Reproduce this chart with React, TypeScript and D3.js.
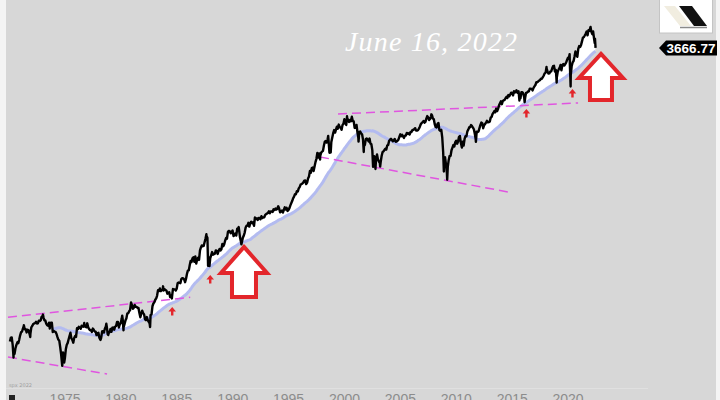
import React from 'react';
import * as d3 from 'd3';

// S&P 500 monthly closes (Jan..Dec), read/estimated
const close1970s = [
  85.02, 89.5, 89.63, 81.52, 76.55, 72.72, 78.05, 81.52, 84.21, 83.25, 87.2, 92.15,
  95.88, 96.75, 100.31, 103.95, 99.63, 99.7, 95.58, 99.03, 98.34, 94.23, 93.99, 102.09,
  103.94, 106.57, 107.2, 107.67, 109.53, 107.14, 107.39, 111.09, 110.55, 111.58, 116.67, 118.05,
  116.03, 111.68, 111.52, 106.97, 104.95, 104.26, 108.22, 104.25, 108.43, 108.29, 95.96, 97.55,
  96.57, 96.22, 93.98, 90.31, 87.28, 86.0, 79.31, 72.15, 63.54, 73.9, 69.97, 68.56,
  76.98, 81.59, 83.36, 87.3, 91.15, 95.19, 88.75, 86.88, 83.87, 89.04, 91.24, 90.19,
  100.86, 99.71, 102.77, 101.64, 100.18, 104.28, 103.44, 102.91, 105.24, 102.9, 102.1, 107.46,
  102.03, 99.82, 98.42, 98.44, 96.12, 100.48, 98.85, 96.77, 96.53, 92.34, 94.83, 95.1,
  89.25, 87.04, 89.21, 96.83, 97.24, 95.53, 100.68, 103.29, 102.54, 93.15, 94.7, 96.11,
  99.93, 96.28, 101.59, 101.76, 99.08, 102.91, 103.81, 109.32, 109.32, 101.82, 106.16, 107.94,
];
const close1980s = [
  114.16, 113.66, 102.09, 106.29, 111.24, 114.24, 121.67, 122.38, 125.46, 127.47, 140.52, 135.76,
  129.55, 131.27, 136.0, 132.81, 132.59, 131.21, 130.92, 122.79, 116.18, 121.89, 126.35, 122.55,
  120.4, 113.11, 111.96, 116.44, 111.88, 109.61, 107.09, 119.51, 120.42, 133.71, 138.54, 140.64,
  145.3, 148.06, 152.96, 164.42, 162.39, 168.11, 162.56, 164.4, 166.07, 163.55, 166.4, 164.93,
  163.41, 157.06, 159.18, 160.05, 150.55, 153.18, 150.66, 166.68, 166.1, 166.09, 163.58, 167.24,
  179.63, 181.18, 180.66, 179.83, 189.55, 191.85, 190.92, 188.63, 182.08, 189.82, 202.17, 211.28,
  211.78, 226.92, 238.9, 235.52, 247.35, 250.84, 236.12, 252.93, 231.32, 243.98, 249.22, 242.17,
  274.08, 284.2, 291.7, 288.36, 290.1, 304.0, 318.66, 329.8, 321.83, 251.79, 230.3, 247.08,
  257.07, 267.82, 258.89, 261.33, 262.16, 273.5, 272.02, 261.52, 271.91, 278.97, 273.7, 277.72,
  297.47, 288.86, 294.87, 309.64, 320.52, 317.98, 346.08, 351.45, 349.15, 340.36, 345.99, 353.4,
];
const close1990s = [
  329.08, 331.89, 339.94, 330.8, 361.23, 358.02, 356.15, 322.56, 306.05, 304.0, 322.22, 330.22,
  343.93, 367.07, 375.22, 375.34, 389.83, 371.16, 387.81, 395.43, 387.86, 392.45, 375.22, 417.09,
  408.79, 412.7, 403.69, 414.95, 415.35, 408.14, 424.21, 414.03, 417.8, 418.68, 431.35, 435.71,
  438.78, 443.38, 451.67, 440.19, 450.19, 450.53, 448.13, 463.56, 458.93, 467.83, 461.79, 466.45,
  481.61, 467.14, 445.77, 450.91, 456.5, 444.27, 458.26, 475.49, 462.69, 472.35, 453.69, 459.27,
  470.42, 487.39, 500.71, 514.71, 533.4, 544.75, 562.06, 561.88, 584.41, 581.5, 605.37, 615.93,
  636.02, 640.43, 645.5, 654.17, 669.12, 670.63, 639.95, 651.99, 687.31, 705.27, 757.02, 740.74,
  786.16, 790.82, 757.12, 801.34, 848.28, 885.14, 954.29, 899.47, 947.28, 914.62, 955.4, 970.43,
  980.28, 1049.34, 1101.75, 1111.75, 1090.82, 1133.84, 1120.67, 957.28, 1017.01, 1098.67, 1163.63, 1229.23,
  1279.64, 1238.33, 1286.37, 1335.18, 1301.84, 1372.71, 1328.72, 1320.41, 1282.71, 1362.93, 1388.91, 1469.25,
];
const close2000s = [
  1394.46, 1366.42, 1498.58, 1452.43, 1420.6, 1454.6, 1430.83, 1517.68, 1436.51, 1429.4, 1314.95, 1320.28,
  1366.01, 1239.94, 1160.33, 1249.46, 1255.82, 1224.42, 1211.23, 1133.58, 1040.94, 1059.78, 1139.45, 1148.08,
  1130.2, 1106.73, 1147.39, 1076.92, 1067.14, 989.82, 911.62, 916.07, 815.28, 885.76, 936.31, 879.82,
  855.7, 841.15, 848.18, 916.92, 963.59, 974.5, 990.31, 1008.01, 995.97, 1050.71, 1058.2, 1111.92,
  1131.13, 1144.94, 1126.21, 1107.3, 1120.68, 1140.84, 1101.72, 1104.24, 1114.58, 1130.2, 1173.82, 1211.92,
  1181.27, 1203.6, 1180.59, 1156.85, 1191.5, 1191.33, 1234.18, 1220.33, 1228.81, 1207.01, 1249.48, 1248.29,
  1280.08, 1280.66, 1294.87, 1310.61, 1270.09, 1270.2, 1276.66, 1303.82, 1335.85, 1377.94, 1400.63, 1418.3,
  1438.24, 1406.82, 1420.86, 1482.37, 1530.62, 1503.35, 1455.27, 1473.99, 1526.75, 1549.38, 1481.14, 1468.36,
  1378.55, 1330.63, 1322.7, 1385.59, 1400.38, 1280.0, 1267.38, 1282.83, 1166.36, 968.75, 896.24, 903.25,
  825.88, 735.09, 797.87, 872.81, 919.14, 919.32, 987.48, 1020.62, 1057.08, 1036.19, 1095.63, 1115.1,
];
const close2010s = [
  1073.87, 1104.49, 1169.43, 1186.69, 1089.41, 1030.71, 1101.6, 1049.33, 1141.2, 1183.26, 1180.55, 1257.64,
  1286.12, 1327.22, 1325.83, 1363.61, 1345.2, 1320.64, 1292.28, 1218.89, 1131.42, 1253.3, 1246.96, 1257.6,
  1312.41, 1365.68, 1408.47, 1397.91, 1310.33, 1362.16, 1379.32, 1406.58, 1440.67, 1412.16, 1416.18, 1426.19,
  1498.11, 1514.68, 1569.19, 1597.57, 1630.74, 1606.28, 1685.73, 1632.97, 1681.55, 1756.54, 1805.81, 1848.36,
  1782.59, 1859.45, 1872.34, 1883.95, 1923.57, 1960.23, 1930.67, 2003.37, 1972.29, 2018.05, 2067.56, 2058.9,
  1994.99, 2104.5, 2067.89, 2085.51, 2107.39, 2063.11, 2103.84, 1972.18, 1920.03, 2079.36, 2080.41, 2043.94,
  1940.24, 1932.23, 2059.74, 2065.3, 2096.95, 2098.86, 2173.6, 2170.95, 2168.27, 2126.15, 2198.81, 2238.83,
  2278.87, 2363.64, 2362.72, 2384.2, 2411.8, 2423.41, 2470.3, 2471.65, 2519.36, 2575.26, 2647.58, 2673.61,
  2823.81, 2713.83, 2640.87, 2648.05, 2705.27, 2718.37, 2816.29, 2901.52, 2913.98, 2711.74, 2760.17, 2506.85,
  2704.1, 2784.49, 2834.4, 2945.83, 2752.06, 2941.76, 2980.38, 2926.46, 2976.74, 3037.56, 3140.98, 3230.78,
];
const close2020s = [
  3225.52, 2954.22, 2584.59, 2912.43, 3044.31, 3100.29, 3271.12, 3500.31, 3363.0, 3269.96, 3621.63, 3756.07,
  3714.24, 3811.15, 3972.89, 4181.17, 4204.11, 4297.5, 4395.26, 4522.68, 4307.54, 4605.38, 4567.0, 4766.18,
  4515.55, 4373.94, 4530.41, 4131.93, 4132.15,
];

// Intra-month extremes visible in the daily chart
const extremeDates = [
  '1970-05-26', '1971-04-28', '1971-11-23', '1973-01-11', '1973-08-22', '1974-10-03', '1974-12-06',
  '1976-09-21', '1978-03-06', '1978-09-12', '1978-11-14', '1980-02-13', '1980-03-27', '1980-11-28',
  '1982-08-12', '1983-10-10', '1984-07-24', '1987-08-25', '1987-10-19', '1987-12-04', '1990-07-16',
  '1990-10-11', '1997-10-27', '1998-07-17', '1998-10-08', '2000-03-24', '2001-04-04', '2001-09-21',
  '2002-07-23', '2002-10-09', '2003-03-11', '2007-10-09', '2008-11-20', '2009-03-09', '2010-07-02',
  '2011-10-03', '2015-05-21', '2015-08-25', '2016-02-11', '2018-01-26', '2018-12-24', '2020-02-19',
  '2020-03-23', '2022-01-03', '2022-05-20', '2022-06-16',
];
const extremeValues = [
  69.29, 104.77, 90.16, 120.24, 100.53, 62.28, 65.01,
  107.83, 86.9, 106.99, 92.49, 118.44, 98.22, 140.52,
  102.42, 172.65, 147.82, 336.77, 224.84, 223.92, 368.95,
  295.46, 876.99, 1186.75, 959.44, 1527.46, 1103.25, 965.8,
  797.7, 776.76, 800.73, 1565.15, 752.44, 676.53, 1022.58,
  1099.23, 2130.82, 1867.61, 1829.08, 2872.87, 2351.1, 3386.15,
  2237.4, 4796.56, 3900.79, 3666.77,
];

const tickYears = [1975, 1980, 1985, 1990, 1995, 2000, 2005, 2010, 2015, 2020];
const titleText = 'June 16, 2022';
const lastLabel = '3666.77';
const sourceText = 'spx 2022';

// Trend lines: [startYear, startValue, endYear, endValue]
const trendLines = [
  [1969.9, 116, 1986.2, 150],
  [1969.9, 69.7, 1978.76, 56.1],
  [1999.42, 1572, 2020.89, 1810],
  [1997.81, 906, 2014.62, 579],
];
// Small arrow tips: [year, value]
const smallArrows = [
  [1984.59, 132.4],
  [1987.99, 199.6],
  [2016.27, 1676],
  [2020.39, 2167],
];
// Big arrow tips: [year, value]
const bigArrows = [
  [1991.01, 286],
  [2022.94, 3393],
];

const MA_WINDOW = 46; // ~200 weeks

function yearToDate(y: number) {
  const yr = Math.floor(y);
  const frac = y - yr;
  const a = new Date(yr, 0, 1).getTime();
  const b = new Date(yr + 1, 0, 1).getTime();
  return new Date(a + frac * (b - a));
}

export default function App() {
  const W = 720;
  const H = 400;

  const monthly: { date: Date; value: number }[] = [];
  const decades = [
    [1970, close1970s],
    [1980, close1980s],
    [1990, close1990s],
    [2000, close2000s],
    [2010, close2010s],
    [2020, close2020s],
  ] as [number, number[]][];
  decades.forEach(([y0, arr]) => {
    arr.forEach((v, i) => {
      monthly.push({ date: new Date(y0 + Math.floor(i / 12), i % 12, 28), value: v });
    });
  });

  const extremes = extremeDates.map((d, i) => {
    const [yy, mm, dd] = d.split('-').map(Number);
    return { date: new Date(yy, mm - 1, dd), value: extremeValues[i] };
  });

  const series = [...monthly, ...extremes].sort((a, b) => a.date.getTime() - b.date.getTime());

  const ma: { date: Date; value: number }[] = [];
  for (let i = MA_WINDOW - 1; i < monthly.length; i++) {
    const s = d3.sum(monthly.slice(i - MA_WINDOW + 1, i + 1), (d) => d.value);
    ma.push({ date: monthly[i].date, value: s / MA_WINDOW });
  }
  // extend MA to the last day
  const lastPt = series[series.length - 1];
  {
    const tail = monthly.slice(monthly.length - MA_WINDOW + 1).map((d) => d.value);
    tail.push(lastPt.value);
    ma.push({ date: lastPt.date, value: d3.mean(tail) as number });
  }

  const x = d3
    .scaleTime()
    .domain([new Date(1970, 0, 1), new Date(2020, 0, 1)])
    .range([9.1, 568.1]);
  const y = d3.scaleLog().domain([50, 6000]).range([383, 9.5]);

  const priceLine = d3
    .line<{ date: Date; value: number }>()
    .x((d) => x(d.date))
    .y((d) => y(d.value));
  const priceArea = d3
    .area<{ date: Date; value: number }>()
    .x((d) => x(d.date))
    .y0(H)
    .y1((d) => y(d.value));
  const maClip = d3
    .area<{ date: Date; value: number }>()
    .x((d) => x(d.date))
    .y0(0)
    .y1((d) => y(d.value));

  const lastX = x(lastPt.date);
  const lastY = y(lastPt.value);

  const red = '#e3262b';

  const bigArrowPath = (tx: number, ty: number, w: number, h: number, headH: number, shaftW: number) => {
    const hw = w / 2;
    const sw = shaftW / 2;
    return `M${tx},${ty} L${tx + hw},${ty + headH} L${tx + sw},${ty + headH} L${tx + sw},${ty + h} L${tx - sw},${ty + h} L${tx - sw},${ty + headH} L${tx - hw},${ty + headH} Z`;
  };
  const smallArrowPath = (tx: number, ty: number) =>
    `M${tx},${ty} L${tx + 3.8},${ty + 4.5} L${tx + 1.2},${ty + 4.5} L${tx + 1.2},${ty + 8.5} L${tx - 1.2},${ty + 8.5} L${tx - 1.2},${ty + 4.5} L${tx - 3.8},${ty + 4.5} Z`;

  return (
    <svg
      width={W}
      height={H}
      style={{ position: 'absolute', left: 0, top: 0, display: 'block' }}
      xmlns="http://www.w3.org/2000/svg"
    >
      <defs>
        <clipPath id="maClip">
          <path d={maClip(ma) || ''} />
        </clipPath>
      </defs>
      <rect x={0} y={0} width={W} height={H} fill="#d7d7d7" />
      <rect x={0} y={0} width={6} height={H} fill="#f4f4f4" />
      <rect x={716} y={0} width={4} height={H} fill="#f4f4f4" />
      <line x1={6} x2={648} y1={388.5} y2={388.5} stroke="#e0e0e0" strokeWidth={1} />

      {/* white fill between price and moving average */}
      <path d={priceArea(series) || ''} fill="#ffffff" clipPath="url(#maClip)" />
      {/* moving average */}
      <path
        d={priceLine(ma) || ''}
        fill="none"
        stroke="#b3bbf0"
        strokeWidth={3}
        strokeLinejoin="round"
      />

      {/* trend lines */}
      {trendLines.map((t, i) => (
        <line
          key={'t' + i}
          x1={x(yearToDate(t[0]))}
          y1={y(t[1])}
          x2={x(yearToDate(t[2]))}
          y2={y(t[3])}
          stroke="#e055e0"
          strokeWidth={1.5}
          strokeDasharray="9,5"
        />
      ))}

      {/* price */}
      <path
        d={priceLine(series) || ''}
        fill="none"
        stroke="#000"
        strokeWidth={2.4}
        strokeLinejoin="round"
      />

      {/* small arrows */}
      {smallArrows.map((a, i) => (
        <path key={'s' + i} d={smallArrowPath(x(yearToDate(a[0])), y(a[1]))} fill={red} />
      ))}

      {/* big arrows */}
      {bigArrows.map((a, i) => {
        const tx = x(yearToDate(a[0]));
        const ty = y(a[1]);
        const d = i === 0 ? bigArrowPath(tx, ty, 46, 50, 26, 24) : bigArrowPath(tx, ty, 44, 46, 24, 22);
        return (
          <path
            key={'b' + i}
            d={d}
            fill="#ffffff"
            stroke={red}
            strokeWidth={4}
            strokeLinejoin="miter"
          />
        );
      })}

      {/* title */}
      <text
        x={345}
        y={51}
        fill="#ffffff"
        fontFamily="'Liberation Serif', serif"
        fontStyle="italic"
        fontSize={28}
        textLength={172}
        lengthAdjust="spacing"
      >
        {titleText}
      </text>

      {/* logo */}
      <rect x={659.5} y={-1} width={53} height={34} fill="#ffffff" stroke="#c4c4c4" />
      <polygon points="664,6 675,6 691,26 680,26" fill="#f1ede0" />
      <polygon points="679,6 692,6 707,26 694,26" fill="#111111" />
      <line x1={680} x2={707} y1={27.5} y2={27.5} stroke="#8a8a8a" strokeWidth={1.5} />

      {/* last value tag */}
      <polygon
        points={`${659},${lastY} ${666},${lastY - 7.5} ${717},${lastY - 7.5} ${717},${lastY + 7.5} ${666},${lastY + 7.5}`}
        fill="#000"
      />
      <text
        x={691}
        y={lastY + 4.8}
        fill="#fff"
        textAnchor="middle"
        fontFamily="'Liberation Sans', Arial, sans-serif"
        fontWeight="bold"
        fontSize={13.5}
      >
        {lastLabel}
      </text>

      {/* source text */}
      <text x={9} y={387} fill="#a0a0a0" fontFamily="'DejaVu Sans', sans-serif" fontSize={5}>
        {sourceText}
      </text>

      {/* x axis labels */}
      <rect x={9} y={395} width={6} height={6} fill="#222" />
      {tickYears.map((yr) => (
        <text
          key={yr}
          x={x(new Date(yr, 0, 1))}
          y={404}
          textAnchor="middle"
          fill="#8c8c8c"
          fontFamily="'Liberation Sans', Arial, sans-serif"
          fontSize={14}
        >
          {yr}
        </text>
      ))}
    </svg>
  );
}
